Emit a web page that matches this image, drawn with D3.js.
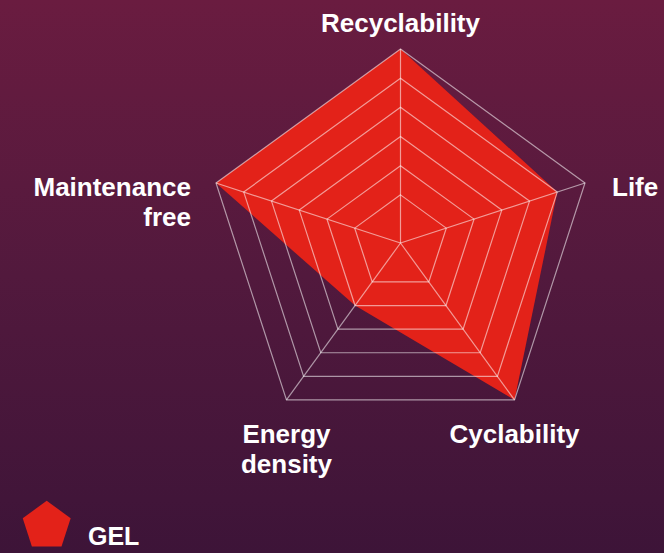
<!DOCTYPE html>
<html>
<head>
<meta charset="utf-8">
<script src="https://cdn.jsdelivr.net/npm/d3@7"></script>
<style>
  html, body { margin: 0; padding: 0; }
  svg { display: block; }
  text { font-family: "Liberation Sans", Arial, Helvetica, sans-serif; font-weight: bold; fill: #fff; }
</style>
</head>
<body>
<svg id="chart" width="664" height="553"></svg>
<script>
// axes (clockwise from top) and the GEL values
const axes = ["Recyclability", "Life", "Cyclability", "Energy density", "Maintenance free"];
const axisLines = [["Recyclability"], ["Life"], ["Cyclability"], ["Energy", "density"], ["Maintenance", "free"]];
const gelValues = [6, 5, 6, 2, 6];
const ticks = [1, 2, 3, 4, 5, 6];
const seriesName = "GEL";

const W = 664, H = 553;
const cx = 400.5, cy = 243, R = 194;

const svg = d3.select("#chart");

// background gradient
const defs = svg.append("defs");
const grad = defs.append("linearGradient")
  .attr("id", "bg").attr("x1", 0).attr("y1", 0).attr("x2", 0).attr("y2", 1);
grad.append("stop").attr("offset", "0%").attr("stop-color", "#6a1c40");
grad.append("stop").attr("offset", "50%").attr("stop-color", "#52193d");
grad.append("stop").attr("offset", "100%").attr("stop-color", "#3d1438");
svg.append("rect").attr("width", W).attr("height", H).attr("fill", "url(#bg)");

// radial scale: the rings don't start at zero
const r = d3.scaleLinear().domain([-0.65, 6]).range([0, R]);
const angle = d3.scalePoint().domain(axes).range([0, 2 * Math.PI * (axes.length - 1) / axes.length]);

const pt = (a, rad) => [cx + rad * Math.sin(a), cy - rad * Math.cos(a)];

const g = svg.append("g");

// series area
const area = axes.map((a, i) => pt(angle(a), r(gelValues[i])));
g.append("path")
  .attr("d", d3.line()(area) + "Z")
  .attr("fill", "#e32219");

// grid rings
ticks.forEach(t => {
  const ring = axes.map(a => pt(angle(a), r(t)));
  g.append("path")
    .attr("d", d3.line()(ring) + "Z")
    .attr("fill", "none")
    .attr("stroke", "rgba(255,255,255,0.55)")
    .attr("stroke-width", 1.2);
});

// spokes
axes.forEach(a => {
  const [x2, y2] = pt(angle(a), r(d3.max(ticks)));
  g.append("line")
    .attr("x1", cx).attr("y1", cy).attr("x2", x2).attr("y2", y2)
    .attr("stroke", "rgba(255,255,255,0.55)")
    .attr("stroke-width", 1.2);
});

// axis labels
const labelPos = [
  { dx: 0, dy: -17, anchor: "middle" },
  { dx: 27, dy: 13, anchor: "start" },
  { dx: 0, dy: 43, anchor: "middle" },
  { dx: 0, dy: 43, anchor: "middle" },
  { dx: -25, dy: 13, anchor: "end" }
];
axes.forEach((a, i) => {
  const [x, y] = pt(angle(a), r(d3.max(ticks)));
  const p = labelPos[i];
  const t = svg.append("text")
    .attr("x", x + p.dx)
    .attr("y", y + p.dy)
    .attr("text-anchor", p.anchor)
    .style("font-size", "26px");
  axisLines[i].forEach((line, j) => {
    t.append("tspan").attr("x", x + p.dx).attr("dy", j === 0 ? 0 : 30).text(line);
  });
});

// legend
const lx = 46.7, ly = 526, lr = 25.2;
const pent = d3.range(5).map(i => [lx + lr * Math.sin(i * 2 * Math.PI / 5), ly - lr * Math.cos(i * 2 * Math.PI / 5)]);
svg.append("path").attr("d", d3.line()(pent) + "Z").attr("fill", "#e32219");
svg.append("text").attr("x", 88).attr("y", 545).style("font-size", "25px").text(seriesName);
</script>
</body>
</html>
